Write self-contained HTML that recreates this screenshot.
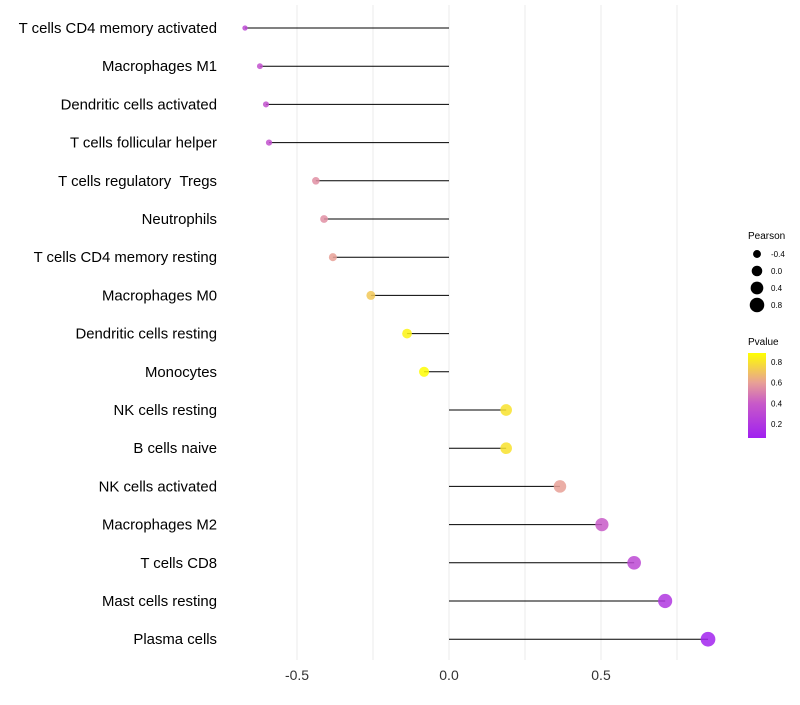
<!DOCTYPE html>
<html><head><meta charset="utf-8"><style>
body{margin:0;background:#fff;font-family:"Liberation Sans",sans-serif;}
</style></head><body>
<svg id="chart" width="800" height="700" xmlns="http://www.w3.org/2000/svg"></svg>
<script>
const categories=["T cells CD4 memory activated","Macrophages M1","Dendritic cells activated","T cells follicular helper","T cells regulatory \u00a0Tregs","Neutrophils","T cells CD4 memory resting","Macrophages M0","Dendritic cells resting","Monocytes","NK cells resting","B cells naive","NK cells activated","Macrophages M2","T cells CD8","Mast cells resting","Plasma cells"];
const pearson=[-0.671,-0.622,-0.602,-0.592,-0.438,-0.411,-0.382,-0.257,-0.138,-0.082,0.188,0.188,0.365,0.503,0.609,0.711,0.852];
const pvalues=[0.3,0.35,0.35,0.35,0.55,0.55,0.6,0.72,0.85,0.88,0.8,0.8,0.6,0.4,0.3,0.2,0.08];
const xTicks=[-0.5,0,0.5];
const xTickLabels=["-0.5","0.0","0.5"];
const gridVals=[-0.5,-0.25,0,0.25,0.5,0.75];
const sizeLegendVals=[-0.4,0.0,0.4,0.8];
const colorLegendVals=[0.2,0.4,0.6,0.8];

const svg=document.getElementById('chart');
const NS="http://www.w3.org/2000/svg";
function xS(v){return 449+v*304;}
function yS(i){return 28+i*38.2;}
function rS(v){return Math.sqrt(Math.max(28+31*v,4));}
const stops=[[0.064,[160,32,240]],[0.4,[200,90,200]],[0.6,[232,160,150]],[0.887,[255,255,0]]];
function cS(p){p=Math.max(0.064,Math.min(0.887,p));for(let i=0;i<stops.length-1;i++){const a=stops[i],b=stops[i+1];if(p<=b[0]){const t=(p-a[0])/(b[0]-a[0]);return 'rgb('+a[1].map((c,k)=>Math.round(c+(b[1][k]-c)*t)).join(',')+')';}}return 'rgb(255,255,0)';}
function mk(tag,attrs,text){const e=document.createElementNS(NS,tag);for(const k in attrs)e.setAttribute(k,attrs[k]);if(text!==undefined)e.textContent=text;svg.appendChild(e);return e;}

gridVals.forEach(v=>{const g=mk('line',{x1:xS(v),x2:xS(v),y1:5,y2:660,stroke:'#ebebeb','stroke-width':1});

});
xTicks.forEach((v,i)=>{const t=mk('text',{x:xS(v),y:680,'text-anchor':'middle','font-size':14,fill:'#333'},xTickLabels[i]);

});
categories.forEach((c,i)=>{
const t=mk('text',{x:217,y:yS(i)+5,'text-anchor':'end','font-size':14.9,fill:'#000'},c);


const l=mk('line',{x1:xS(0),x2:xS(pearson[i]),y1:yS(i),y2:yS(i),stroke:'#000','stroke-width':1});


const d=mk('circle',{cx:xS(pearson[i]),cy:yS(i),r:rS(pearson[i]),fill:cS(pvalues[i]),'fill-opacity':0.85});


});
let t=mk('text',{x:748,y:239,'font-size':10,fill:'#000'},'Pearson');


sizeLegendVals.forEach((v,i)=>{const y=254+i*17;
const c=mk('circle',{cx:757,cy:y,r:rS(v),fill:'#000'});


const l=mk('text',{x:771,y:y+3,'font-size':8,fill:'#000'},v.toFixed(1));

});
t=mk('text',{x:748,y:345,'font-size':10,fill:'#000'},'Pvalue');


const defs=mk('defs',{});
const grad=document.createElementNS(NS,'linearGradient');
grad.setAttribute('id','pg');grad.setAttribute('x1','0');grad.setAttribute('y1','1');grad.setAttribute('x2','0');grad.setAttribute('y2','0');
stops.forEach(s=>{const st=document.createElementNS(NS,'stop');st.setAttribute('offset',((s[0]-0.064)/(0.887-0.064)).toFixed(3));st.setAttribute('stop-color','rgb('+s[1].join(',')+')');grad.appendChild(st);});
defs.appendChild(grad);
const bar=mk('rect',{x:748,y:353,width:18,height:85,fill:'url(#pg)'});


function pY(p){return 438-(p-0.064)/(0.887-0.064)*85;}
colorLegendVals.forEach(v=>{
const l=mk('text',{x:771,y:pY(v)+3,'font-size':8,fill:'#000'},v.toFixed(1));

});
</script>
</body></html>
